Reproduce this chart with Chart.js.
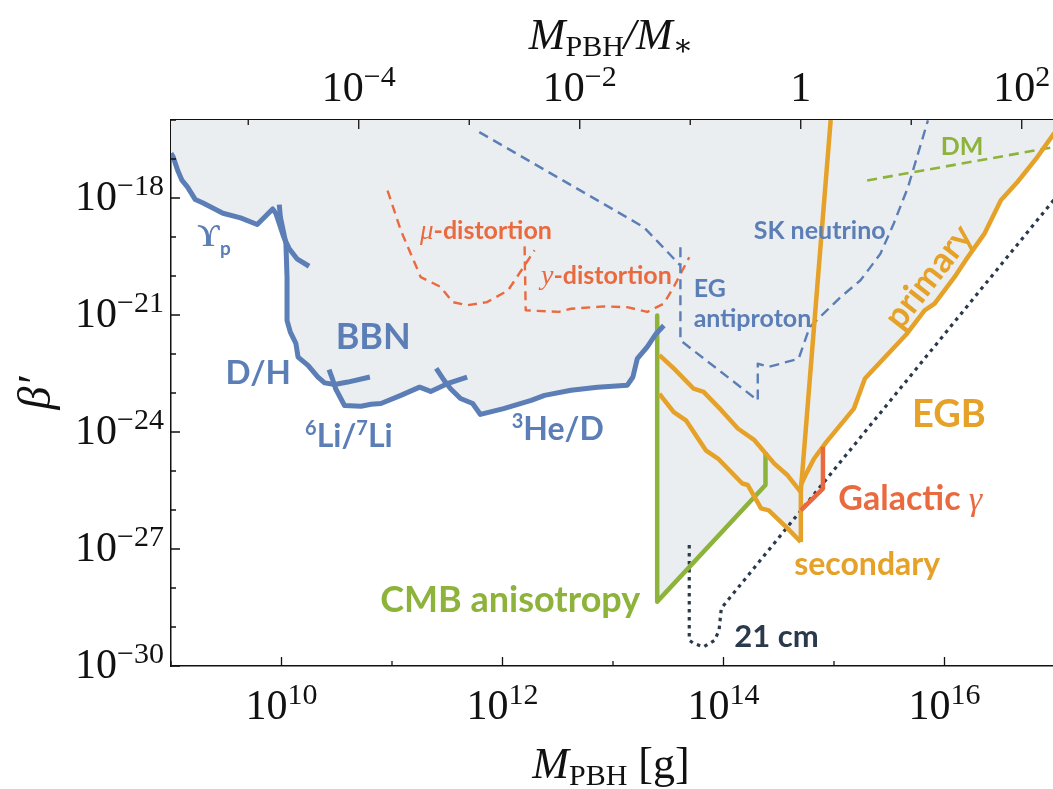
<!DOCTYPE html>
<html lang="en">
<head>
<meta charset="UTF-8">
<meta name="viewport" content="width=device-width, initial-scale=1.0">
<title>PBH constraints on beta'</title>
<script src="https://cdn.jsdelivr.net/npm/chart.js"></script>
<style>
  html, body { margin: 0; padding: 0; overflow: hidden; background: #fff; }
  canvas { display: block; }
</style>
</head>
<body>
<canvas id="betaChart" width="1060" height="789"></canvas>
<script>
// M_* = PBH mass evaporating today (top axis is M_PBH / M_*)
const M_STAR = 5e14;

// curves, as [log10(M_PBH / g), log10(beta')]
const ypCurve = [[9.00,-16.85],[9.02,-16.95],[9.06,-17.29],[9.10,-17.55],[9.15,-17.72],[9.22,-18.04],[9.29,-18.13],[9.47,-18.39],[9.63,-18.51],[9.78,-18.68],[9.92,-18.28],[9.95,-18.40],[10.02,-19.00],[10.07,-19.30],[10.14,-19.56],[10.25,-19.75]];
const dhCurve = [[9.98,-18.17],[9.99,-18.49],[10.04,-19.17],[10.05,-20.03],[10.05,-21.14],[10.08,-21.44],[10.13,-21.73],[10.15,-22.08],[10.24,-22.29],[10.33,-22.59],[10.39,-22.74],[10.48,-22.78],[10.60,-22.72],[10.80,-22.59]];
const liCurve = [[10.43,-22.40],[10.46,-22.63],[10.49,-22.89],[10.57,-23.32],[10.72,-23.34],[10.81,-23.29],[10.90,-23.27],[11.08,-23.06],[11.25,-22.85],[11.35,-22.96],[11.50,-22.76],[11.68,-22.59]];
const heCurve = [[11.40,-22.37],[11.47,-22.67],[11.53,-22.89],[11.62,-23.14],[11.73,-23.27],[11.80,-23.55],[12.01,-23.40],[12.26,-23.19],[12.38,-23.06],[12.62,-22.93],[12.86,-22.85],[13.13,-22.80],[13.18,-22.59],[13.22,-22.12],[13.31,-21.82],[13.39,-21.48],[13.46,-21.27]];
const cmbCurve = [[13.40,-21.01],[13.40,-28.35],[14.38,-25.36],[14.38,-24.51]];
const secUpper = [[13.42,-22.03],[13.55,-22.37],[13.73,-22.89],[13.82,-22.97],[13.98,-23.44],[14.13,-23.91],[14.28,-24.21],[14.46,-24.81],[14.58,-25.11],[14.70,-25.54]];
const secLower = [[13.42,-23.02],[13.55,-23.49],[13.66,-23.70],[13.84,-24.47],[13.95,-24.68],[14.17,-25.32],[14.22,-25.36],[14.34,-25.96],[14.41,-26.01],[14.58,-26.47],[14.70,-26.82]];
const steepCurve = [[14.70,-26.82],[14.70,-25.50],[14.97,-16.00]];
const primaryCurve = [[14.70,-25.36],[14.75,-25.06],[14.82,-24.68],[14.93,-24.26],[15.18,-23.40],[15.28,-22.63],[15.66,-21.48],[15.82,-20.88],[15.91,-20.71],[16.09,-20.03],[16.19,-19.60],[16.36,-18.92],[16.51,-18.06],[16.66,-17.59],[16.84,-16.95],[16.99,-16.35],[17.10,-16.00]];
const galCurve = [[14.70,-26.01],[14.90,-25.45],[14.90,-24.38]];
const cm21Curve = [[13.69,-26.90],[13.69,-29.34],[13.73,-29.42],[13.82,-29.51],[13.92,-29.34],[13.96,-29.08],[13.98,-28.52],[17.00,-18.01]];
const antiprotonCurve = [[11.79,-16.31],[13.28,-18.75],[13.61,-19.73]];
const skCurve = [[13.61,-19.26],[13.61,-21.65],[14.31,-23.19],[14.31,-22.25],[14.41,-22.33],[14.68,-22.12],[14.78,-21.31],[15.06,-20.54],[15.24,-20.11],[15.42,-19.43],[15.54,-18.66],[15.67,-17.72],[15.85,-16.01]];
const muCurve = [[10.96,-17.81],[11.08,-18.83],[11.26,-20.03],[11.44,-20.28],[11.55,-20.67],[11.68,-20.75],[11.86,-20.67],[12.05,-20.37],[12.20,-19.73],[12.29,-19.34]];
const yCurve = [[12.20,-19.24],[12.21,-20.88],[12.51,-20.92],[12.62,-20.84],[12.92,-20.78],[13.13,-20.80],[13.31,-20.92],[13.46,-20.71],[13.55,-20.28],[13.69,-19.52]];
const dmCurve = [[15.30,-17.55],[17.00,-16.69]];

// lower edge of the excluded (shaded) region
const shadeEdge = [[9.00,-16.85],[9.02,-16.95],[9.06,-17.29],[9.10,-17.55],[9.15,-17.72],[9.22,-18.04],[9.29,-18.13],[9.47,-18.39],[9.63,-18.51],[9.78,-18.68],[9.92,-18.28],[9.95,-18.40],[10.03,-19.03],[10.05,-20.03],[10.05,-21.14],[10.08,-21.44],[10.13,-21.73],[10.15,-22.08],[10.24,-22.29],[10.33,-22.59],[10.39,-22.74],[10.48,-22.78],[10.49,-22.89],[10.57,-23.32],[10.72,-23.34],[10.81,-23.29],[10.90,-23.27],[11.08,-23.06],[11.25,-22.85],[11.35,-22.96],[11.50,-22.77],[11.53,-22.89],[11.62,-23.14],[11.73,-23.27],[11.80,-23.55],[12.01,-23.40],[12.26,-23.19],[12.38,-23.06],[12.62,-22.93],[12.86,-22.85],[13.13,-22.80],[13.18,-22.59],[13.22,-22.12],[13.31,-21.82],[13.39,-21.48],[13.40,-21.40],[13.40,-28.35],[14.28,-25.64],[14.34,-25.96],[14.41,-26.01],[14.58,-26.47],[14.70,-26.82],[14.70,-25.98],[14.90,-25.45],[14.90,-24.38],[14.93,-24.26],[15.18,-23.40],[15.28,-22.63],[15.66,-21.48],[15.82,-20.88],[15.91,-20.71],[16.09,-20.03],[16.19,-19.60],[16.36,-18.92],[16.51,-18.06],[16.66,-17.59],[16.84,-16.95],[16.99,-16.35],[17.10,-16.00]];

// tick positions (decades) and labels ("base^exponent")
const xTickExps = [9, 10, 11, 12, 13, 14, 15, 16, 17];
const xLabelExps = [10, 12, 14, 16];
const xLabels = ['10^10', '10^12', '10^14', '10^16'];
const topTickExps = [-5, -4, -3, -2, -1, 0, 1, 2];
const topLabelExps = [-4, -2, 0, 2];
const topLabels = ['10^−4', '10^−2', '1', '10^2'];
const yTickExps = [-30, -29, -28, -27, -26, -25, -24, -23, -22, -21, -20, -19, -18, -17, -16];
const yLabelExps = [-30, -27, -24, -21, -18];
const yLabels = ['10^−30', '10^−27', '10^−24', '10^−21', '10^−18'];

const BLUE = '#5b7eb6', ORANGE = '#e5a128', GREEN = '#8db33b', RED = '#ea6a3f', DARK = '#2a3a4c', SHADE = '#ebeef0';
const SANS = '"Lato", "Open Sans", sans-serif';
const SERIF = '"Liberation Serif", "DejaVu Serif", serif';

// in-plot labels, anchored at [log10 M, log10 beta'] (text baseline)
const notes = [
  { at: [9.39, -19.22], color: BLUE, parts: [{ t: 'ϒ', f: `bold 31px ${SERIF}` }, { t: 'p', f: `bold 19px ${SANS}`, dy: 9 }] },
  { at: [9.79, -22.76], color: BLUE, parts: [{ t: 'D/H', f: `bold 33px ${SANS}` }] },
  { at: [10.83, -21.86], color: BLUE, parts: [{ t: 'BBN', f: `bold 36px ${SANS}` }] },
  { at: [10.61, -24.38], color: BLUE, parts: [{ t: '6', f: `bold 20px ${SANS}`, dy: -12 }, { t: 'Li/', f: `bold 32px ${SANS}` }, { t: '7', f: `bold 20px ${SANS}`, dy: -12 }, { t: 'Li', f: `bold 32px ${SANS}` }] },
  { at: [12.50, -24.21], color: BLUE, parts: [{ t: '3', f: `bold 20px ${SANS}`, dy: -12 }, { t: 'He/D', f: `bold 32px ${SANS}` }] },
  { at: [11.85, -19.04], color: RED, parts: [{ t: 'μ', f: `italic 27px ${SERIF}` }, { t: '-distortion', f: `bold 25px ${SANS}` }] },
  { at: [12.94, -20.20], color: RED, parts: [{ t: 'y', f: `italic 28px ${SERIF}` }, { t: '-distortion', f: `bold 25px ${SANS}` }] },
  { at: [13.73, -20.54], color: BLUE, align: 'left', parts: [{ t: 'EG', f: `bold 25px ${SANS}` }] },
  { at: [13.73, -21.31], color: BLUE, align: 'left', parts: [{ t: 'antiproton', f: `bold 25px ${SANS}` }] },
  { at: [14.87, -19.04], color: BLUE, parts: [{ t: 'SK neutrino', f: `bold 25px ${SANS}` }] },
  { at: [16.16, -16.89], color: GREEN, parts: [{ t: 'DM', f: `bold 25px ${SANS}` }] },
  { at: [15.86, -20.02], color: ORANGE, rot: -52, parts: [{ t: 'primary', f: `bold 35px ${SANS}` }] },
  { at: [16.04, -23.87], color: ORANGE, parts: [{ t: 'EGB', f: `bold 38px ${SANS}` }] },
  { at: [15.69, -26.01], color: RED, parts: [{ t: 'Galactic ', f: `bold 34px ${SANS}` }, { t: 'γ', f: `italic 34px ${SERIF}` }] },
  { at: [15.30, -27.67], color: ORANGE, parts: [{ t: 'secondary', f: `bold 32px ${SANS}` }] },
  { at: [12.07, -28.61], color: GREEN, parts: [{ t: 'CMB anisotropy', f: `bold 36px ${SANS}` }] },
  { at: [14.48, -29.51], color: DARK, parts: [{ t: '21 cm', f: `bold 31px ${SANS}` }] }
];

const pts = arr => arr.map(([lx, ly]) => ({ x: 10 ** lx, y: 10 ** ly }));

function curve(data, color, width, dash, order) {
  return {
    data: pts(data),
    showLine: true,
    borderColor: color,
    borderWidth: width,
    borderDash: dash || [],
    borderJoinStyle: 'round',
    pointRadius: 0,
    fill: false,
    order: order || 1
  };
}

// draw a run of text pieces with different fonts on one baseline
function drawRich(ctx, parts, x, y, align) {
  let w = 0;
  parts.forEach(p => { ctx.font = p.f; p.w = ctx.measureText(p.t).width; w += p.w; });
  let cx = align === 'left' ? x : (align === 'right' ? x - w : x - w / 2);
  parts.forEach(p => {
    ctx.font = p.f;
    ctx.fillText(p.t, cx, y + (p.dy || 0));
    cx += p.w;
  });
}

const TICK_MAIN = `42px ${SERIF}`, TICK_SUP = `30px ${SERIF}`;
function drawTickLabel(ctx, label, x, y, align) {
  const [base, sup] = label.split('^');
  const parts = [{ t: base, f: TICK_MAIN }];
  if (sup) parts.push({ t: sup, f: TICK_SUP, dy: -15 });
  drawRich(ctx, parts, x, y, align);
}

const decorations = {
  id: 'decorations',
  afterDraw(chart) {
    const { ctx, chartArea: a, scales } = chart;
    ctx.save();

    // inward tick marks
    ctx.strokeStyle = '#111';
    ctx.lineWidth = 1.3;
    ctx.beginPath();
    xTickExps.forEach(e => {
      const px = scales.x.getPixelForValue(10 ** e);
      const len = xLabelExps.includes(e) ? 9 : 5;
      ctx.moveTo(px, a.bottom); ctx.lineTo(px, a.bottom - len);
    });
    topTickExps.forEach(e => {
      const px = scales.x2.getPixelForValue(10 ** e);
      const len = topLabelExps.includes(e) ? 9 : 5;
      ctx.moveTo(px, a.top); ctx.lineTo(px, a.top + len);
    });
    yTickExps.forEach(e => {
      const py = scales.y.getPixelForValue(10 ** e);
      const len = yLabelExps.includes(e) ? 9 : 5;
      ctx.moveTo(a.left, py); ctx.lineTo(a.left + len, py);
    });
    ctx.stroke();

    // tick labels
    ctx.fillStyle = '#111';
    ctx.textAlign = 'left';
    ctx.textBaseline = 'alphabetic';
    xLabelExps.forEach((e, i) => drawTickLabel(ctx, xLabels[i], scales.x.getPixelForValue(10 ** e), a.bottom + 53, 'center'));
    topLabelExps.forEach((e, i) => drawTickLabel(ctx, topLabels[i], scales.x2.getPixelForValue(10 ** e), a.top - 19, 'center'));
    yLabelExps.forEach((e, i) => drawTickLabel(ctx, yLabels[i], a.left - 7, scales.y.getPixelForValue(10 ** e) + 12, 'right'));

    // labels inside the plot
    notes.forEach(n => {
      const px = scales.x.getPixelForValue(10 ** n.at[0]);
      const py = scales.y.getPixelForValue(10 ** n.at[1]);
      ctx.fillStyle = n.color;
      if (n.rot) {
        ctx.save();
        ctx.translate(px, py);
        ctx.rotate(n.rot * Math.PI / 180);
        ctx.textBaseline = 'middle';
        drawRich(ctx, n.parts, 0, 0, 'center');
        ctx.restore();
      } else {
        drawRich(ctx, n.parts, px, py, n.align);
      }
    });

    // axis titles
    ctx.fillStyle = '#111';
    ctx.textBaseline = 'alphabetic';
    const cx = (a.left + a.right) / 2 - 2;
    const big = `italic 44px ${SERIF}`, sub = `30px ${SERIF}`;
    drawRich(ctx, [{ t: 'M', f: big }, { t: 'PBH', f: sub, dy: 7 }, { t: '/M', f: big }, { t: '∗', f: sub, dy: 6 }], cx, 49);
    drawRich(ctx, [{ t: 'M', f: big }, { t: 'PBH', f: sub, dy: 7 }, { t: ' [g]', f: `44px ${SERIF}` }], cx, 778);
    ctx.save();
    ctx.translate(50, (a.top + a.bottom) / 2);
    ctx.rotate(-Math.PI / 2);
    drawRich(ctx, [{ t: 'β′', f: `italic 46px ${SERIF}` }], 0, 0);
    ctx.restore();

    ctx.restore();
  }
};

function fixedTicks(exps) {
  return scale => { scale.ticks = exps.map(e => ({ value: 10 ** e })); };
}

const axisBorder = { display: true, color: '#111', width: 1.5 };
const noGrid = { display: false, drawTicks: false };

new Chart(document.getElementById('betaChart'), {
  type: 'scatter',
  data: {
    datasets: [
      curve(ypCurve, BLUE, 5),
      curve(dhCurve, BLUE, 5),
      curve(liCurve, BLUE, 5),
      curve(heCurve, BLUE, 5),
      curve(galCurve, RED, 4.5),
      curve(steepCurve, ORANGE, 4.5),
      curve(primaryCurve, ORANGE, 4.5),
      curve(secUpper, ORANGE, 4.5),
      curve(secLower, ORANGE, 4.5),
      curve(cmbCurve, GREEN, 4.5),
      curve(cm21Curve, DARK, 3.2, [3.5, 4.5], 2),
      curve(antiprotonCurve, BLUE, 2.4, [10, 6], 2),
      curve(skCurve, BLUE, 2.4, [10, 6], 2),
      curve(muCurve, RED, 2.4, [9, 6], 2),
      curve(yCurve, RED, 2.4, [9, 6], 2),
      curve(dmCurve, GREEN, 2.6, [10, 6], 2),
      {
        data: pts(shadeEdge),
        showLine: true,
        borderWidth: 0,
        borderColor: 'rgba(0,0,0,0)',
        backgroundColor: SHADE,
        pointRadius: 0,
        fill: 'end',
        order: 10
      }
    ]
  },
  options: {
    responsive: false,
    animation: false,
    events: [],
    layout: { padding: { left: 0, right: 5, top: 0, bottom: 0 } },
    plugins: { legend: { display: false }, tooltip: { enabled: false } },
    scales: {
      x: {
        type: 'logarithmic',
        position: 'bottom',
        min: 1e9,
        max: 1e17,
        grid: noGrid,
        border: axisBorder,
        afterBuildTicks: fixedTicks(xTickExps),
        afterFit: s => { s.height = 123; },
        ticks: { display: false }
      },
      x2: {
        type: 'logarithmic',
        position: 'top',
        display: true,
        min: 1e9 / M_STAR,
        max: 1e17 / M_STAR,
        grid: noGrid,
        border: axisBorder,
        afterBuildTicks: fixedTicks(topTickExps),
        afterFit: s => { s.height = 120; },
        ticks: { display: false }
      },
      y: {
        type: 'logarithmic',
        min: 1e-30,
        max: 1e-16,
        grid: noGrid,
        border: axisBorder,
        afterBuildTicks: fixedTicks(yTickExps),
        afterFit: s => { s.width = 171; },
        ticks: { display: false }
      }
    }
  },
  plugins: [decorations]
});
</script>
</body>
</html>
